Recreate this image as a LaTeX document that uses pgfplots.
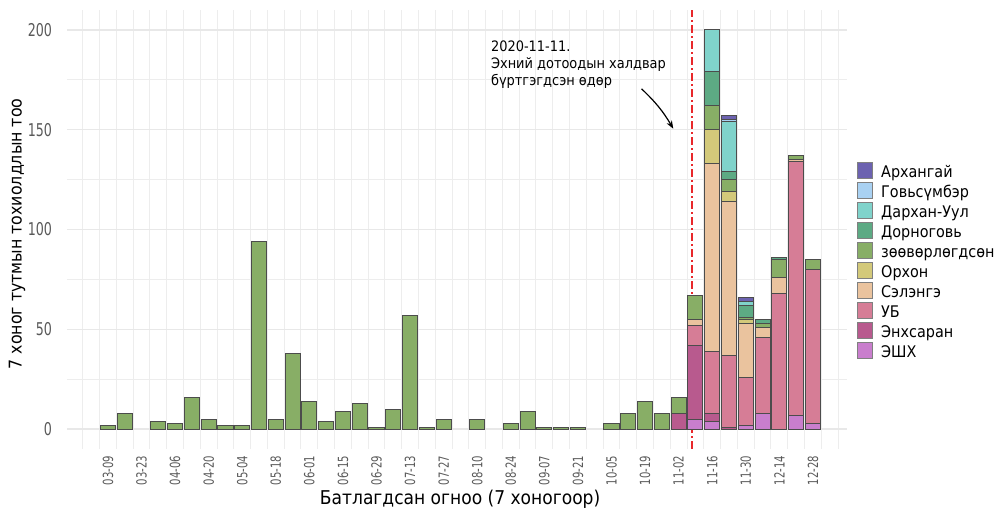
\documentclass[border=0pt]{standalone}
\usepackage{fontspec}
\setmainfont{DejaVu Sans Condensed}
\newfontfamily\tickfont[FakeStretch=0.8]{DejaVu Sans Condensed}
\usepackage{pgfplots}
\usepackage{pgfplotstable}
\pgfplotsset{compat=1.18}
\usetikzlibrary{arrows.meta}
\definecolor{cAr}{HTML}{6C62B0}
\definecolor{cGo}{HTML}{A9D1F2}
\definecolor{cDa}{HTML}{80D3CB}
\definecolor{cDo}{HTML}{5DAA84}
\definecolor{cZo}{HTML}{88AE66}
\definecolor{cOr}{HTML}{D3C97A}
\definecolor{cSe}{HTML}{EAC39E}
\definecolor{cUB}{HTML}{D67D96}
\definecolor{cEn}{HTML}{B85A8E}
\definecolor{cES}{HTML}{C97ECD}
\definecolor{cRed}{HTML}{E8282B}
\pgfplotstableread{
idx Ar Go Da Do Zo Or Se UB En ES
0 0 0 0 0 2 0 0 0 0 0
1 0 0 0 0 8 0 0 0 0 0
2 0 0 0 0 0 0 0 0 0 0
3 0 0 0 0 4 0 0 0 0 0
4 0 0 0 0 3 0 0 0 0 0
5 0 0 0 0 16 0 0 0 0 0
6 0 0 0 0 5 0 0 0 0 0
7 0 0 0 0 2 0 0 0 0 0
8 0 0 0 0 2 0 0 0 0 0
9 0 0 0 0 94 0 0 0 0 0
10 0 0 0 0 5 0 0 0 0 0
11 0 0 0 0 38 0 0 0 0 0
12 0 0 0 0 14 0 0 0 0 0
13 0 0 0 0 4 0 0 0 0 0
14 0 0 0 0 9 0 0 0 0 0
15 0 0 0 0 13 0 0 0 0 0
16 0 0 0 0 1 0 0 0 0 0
17 0 0 0 0 10 0 0 0 0 0
18 0 0 0 0 57 0 0 0 0 0
19 0 0 0 0 1 0 0 0 0 0
20 0 0 0 0 5 0 0 0 0 0
21 0 0 0 0 0 0 0 0 0 0
22 0 0 0 0 5 0 0 0 0 0
23 0 0 0 0 0 0 0 0 0 0
24 0 0 0 0 3 0 0 0 0 0
25 0 0 0 0 9 0 0 0 0 0
26 0 0 0 0 1 0 0 0 0 0
27 0 0 0 0 1 0 0 0 0 0
28 0 0 0 0 1 0 0 0 0 0
29 0 0 0 0 0 0 0 0 0 0
30 0 0 0 0 3 0 0 0 0 0
31 0 0 0 0 8 0 0 0 0 0
32 0 0 0 0 14 0 0 0 0 0
33 0 0 0 0 8 0 0 0 0 0
34 0 0 0 0 8 0 0 0 8 0
35 0 0 0 0 12 0 3 10 37 5
36 0 0 21 17 12 17 94 31 4 4
37 2 1 25 4 6 5 77 36 1 0
38 2 0 2 6 1 2 27 24 0 2
39 0 0 0 2 2 0 5 38 0 8
40 0 0 0 1 9 0 8 68 0 0
41 0 0 0 0 2 0 1 127 0 7
42 0 0 0 0 5 0 0 77 0 3
}\data
\begin{document}
\begin{tikzpicture}
\path[use as bounding box] (-33.5pt,-34pt) rectangle (464pt,224.5pt);
\begin{axis}[
  at={(0,0)}, anchor=south west, scale only axis,
  width=390pt, height=219.5pt,
  xmin=-2.44, xmax=44.03, ymin=-10, ymax=210,
  clip=false,
  ybar stacked, bar width=0.9,
  axis line style={draw=none},
  major tick length=0pt, minor tick length=0pt,
  /pgf/number format/assume math mode=true,
  xtick={0,2,...,42},
  xticklabels={03-09,03-23,04-06,04-20,05-04,05-18,06-01,06-15,06-29,07-13,07-27,08-10,08-24,09-07,09-21,10-05,10-19,11-02,11-16,11-30,12-14,12-28},
  minor xtick={-1.5,-0.5,...,43.5},
  xmajorgrids=false, xminorgrids=true,
  ytick={0,50,100,150,200}, minor ytick={25,75,125,175},
  ymajorgrids=true, yminorgrids=true,
  major grid style={draw=black!9, line width=0.6pt},
  minor grid style={draw=black!7, line width=0.5pt},
  xticklabel style={rotate=90, anchor=east, font=\tickfont\fontsize{7}{8}\selectfont, text=black!65},
  yticklabel style={font=\tickfont\fontsize{8.8}{9}\selectfont, text=black!65, xshift=-4pt},
  xlabel={Батлагдсан огноо (7 хоногоор)},
  xlabel style={at={(axis description cs:0.504,-0.093)}, anchor=north, inner sep=0pt, font=\fontsize{9.5}{10}\selectfont},
  ylabel={7 хоног тутмын тохиолдлын тоо},
  ylabel style={at={(axis description cs:-0.064,0.49)}, anchor=center, inner sep=0pt, font=\fontsize{8.8}{9}\selectfont},
  every axis plot/.append style={draw=black!70, line width=0.5pt},
  legend image code/.code={\draw[#1, draw=black!50, line width=0.4pt] (0pt,-2.2pt) rectangle (7.5pt,5.8pt);},
  reverse legend,
  legend cell align=left,
  legend style={at={(axis description cs:1.0128,0.6538)}, anchor=north west, draw=none, fill=none,
    inner sep=0pt, row sep=0pt, font=\fontsize{8}{8}\selectfont,
    nodes={inner sep=0pt, text height=5.8pt, text depth=2.2pt},
    /tikz/every odd column/.append style={column sep=4pt}},
]
\addplot[fill=cES] table[x=idx,y=ES]{\data};
\addplot[fill=cEn] table[x=idx,y=En]{\data};
\addplot[fill=cUB] table[x=idx,y=UB]{\data};
\addplot[fill=cSe] table[x=idx,y=Se]{\data};
\addplot[fill=cOr] table[x=idx,y=Or]{\data};
\addplot[fill=cZo] table[x=idx,y=Zo]{\data};
\addplot[fill=cDo] table[x=idx,y=Do]{\data};
\addplot[fill=cDa] table[x=idx,y=Da]{\data};
\addplot[fill=cGo] table[x=idx,y=Go]{\data};
\addplot[fill=cAr] table[x=idx,y=Ar]{\data};
\legend{ЭШХ,Энхсаран,УБ,Сэлэнгэ,Орхон,зөөвөрлөгдсөн,Дорноговь,Дархан-Уул,Говьсүмбэр,Архангай}
\draw[draw=cRed, line width=0.75pt, dash pattern=on 4pt off 1.5pt on 1pt off 1.5pt] (axis cs:34.79,-10) -- (axis cs:34.79,210);
\node[anchor=north west, align=left, inner sep=0pt, font=\fontsize{7.2}{8.6}\selectfont] at (axis cs:22.8,195) {2020-11-11.\\Эхний дотоодын халдвар\\бүртгэгдсэн өдөр};
\draw[-{Stealth[length=4pt,width=3pt]}, line width=0.6pt] (axis cs:31.79,170.5) to[bend left=8] (axis cs:33.68,150.5);
\end{axis}
\end{tikzpicture}
\end{document}
